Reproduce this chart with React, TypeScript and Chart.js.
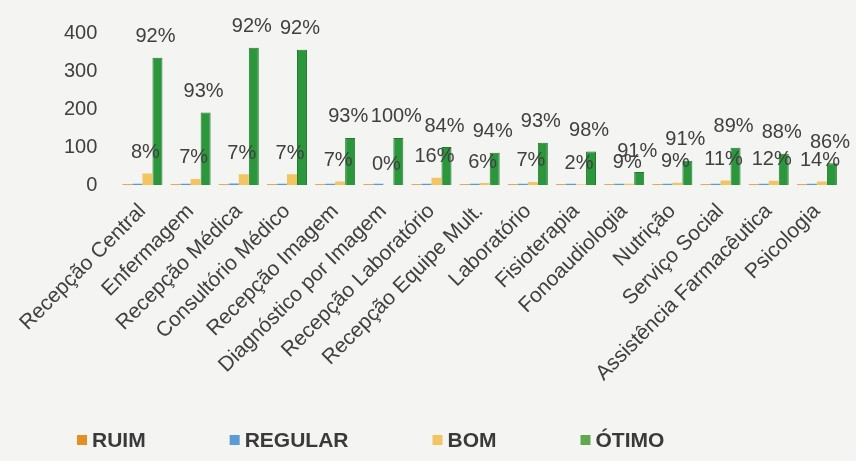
import React, { useEffect, useRef } from 'react';
import { Chart, registerables } from 'chart.js';

Chart.register(...registerables);

const categories = [
  'Recepção Central',
  'Enfermagem',
  'Recepção Médica',
  'Consultório Médico',
  'Recepção Imagem',
  'Diagnóstico por Imagem',
  'Recepção Laboratório',
  'Recepção Equipe Mult.',
  'Laboratório',
  'Fisioterapia',
  'Fonoaudiologia',
  'Nutrição',
  'Serviço Social',
  'Assistência Farmacêutica',
  'Psicologia',
];

const ruim = [2, 2, 2, 2, 2, 2, 2, 2, 2, 2, 2, 2, 2, 2, 2];
const regular = [3, 3, 4, 3, 3, 3, 3, 3, 3, 3, 3, 3, 3, 3, 3];
const bom = [30, 16, 28, 28, 9, 0, 19, 5, 8, 2, 3, 6, 12, 11, 9];
const otimo = [335, 191, 361, 356, 124, 124, 100, 85, 111, 88, 34, 64, 98, 82, 57];

const bomPct = ['8%', '7%', '7%', '7%', '7%', '0%', '16%', '6%', '7%', '2%', '9%', '9%', '11%', '12%', '14%'];
const otimoPct = ['92%', '93%', '92%', '92%', '93%', '100%', '84%', '94%', '93%', '98%', '91%', '91%', '89%', '88%', '86%'];

const seriesNames = ['RUIM', 'REGULAR', 'BOM', 'ÓTIMO'];
const seriesColors = ['#e58e26', '#5b9bd5', '#f2c462', '#2c963d'];
const legendColors = ['#e58e26', '#5b9bd5', '#f2c462', '#5fa850'];

const yMax = 400;
const yStep = 100;

const FONT = "'Liberation Sans', Arial, sans-serif";
const TEXT = '#404040';
const BG = '#f4f4f2';

const bgPlugin = {
  id: 'bg',
  beforeDraw(chart: any) {
    const { ctx, width, height } = chart;
    ctx.save();
    ctx.fillStyle = BG;
    ctx.fillRect(0, 0, width, height);
    ctx.restore();
  },
};

const labelsPlugin = {
  id: 'pctLabels',
  afterDatasetsDraw(chart: any) {
    const { ctx } = chart;
    ctx.save();
    ctx.font = `20px ${FONT}`;
    ctx.fillStyle = TEXT;
    ctx.textAlign = 'center';
    ctx.textBaseline = 'middle';
    const sets: [number, string[]][] = [
      [2, bomPct],
      [3, otimoPct],
    ];
    sets.forEach(([di, texts]) => {
      const meta = chart.getDatasetMeta(di);
      meta.data.forEach((bar: any, i: number) => {
        ctx.fillText(texts[i], bar.x - 2, bar.y - 21);
      });
    });
    ctx.restore();
  },
};

const legendPlugin = {
  id: 'customLegend',
  afterDraw(chart: any) {
    const { ctx, height } = chart;
    ctx.save();
    ctx.font = `bold 21px ${FONT}`;
    ctx.textBaseline = 'middle';
    ctx.textAlign = 'left';
    const y = height - 21;
    let x = 77;
    const gap = 84;
    seriesNames.forEach((name, i) => {
      ctx.fillStyle = legendColors[i];
      ctx.fillRect(x, y - 5, 10, 10);
      ctx.fillStyle = '#3a3a3a';
      ctx.fillText(name, x + 15, y + 1);
      x += 15 + ctx.measureText(name).width + gap;
    });
    ctx.restore();
  },
};

export default function App() {
  const ref = useRef<HTMLCanvasElement | null>(null);

  useEffect(() => {
    document.body.style.margin = '0';
    document.body.style.background = BG;
    const canvas = ref.current;
    if (!canvas) return;
    const datasets = [ruim, regular, bom, otimo].map((d, i) => ({
      label: seriesNames[i],
      data: d,
      backgroundColor: seriesColors[i],
      borderColor: i === 3 ? '#227a30' : seriesColors[i],
      borderWidth: i === 3 ? 1 : 0,
      categoryPercentage: 0.83,
      barPercentage: 1.0,
    }));
    const chart = new Chart(canvas, {
      type: 'bar',
      data: { labels: categories, datasets },
      options: {
        animation: false,
        responsive: false,
        maintainAspectRatio: false,
        layout: { padding: { top: 21, left: 43, right: 15, bottom: 50 } },
        plugins: {
          legend: { display: false },
          tooltip: { enabled: false },
        },
        scales: {
          x: {
            grid: { display: false, drawTicks: false },
            border: { display: false },
            afterFit(scale: any) {
              scale.paddingLeft = 0;
              scale.paddingRight = 0;
              scale.height = 226;
            },
            ticks: {
              autoSkip: false,
              minRotation: 45,
              maxRotation: 45,
              color: TEXT,
              font: { family: FONT, size: 21 },
              padding: 14,
            },
          },
          y: {
            min: 0,
            max: yMax,
            grid: { display: false, drawTicks: false },
            border: { display: false },
            ticks: {
              stepSize: yStep,
              color: TEXT,
              font: { family: FONT, size: 20 },
              padding: 21,
            },
          },
        },
      },
      plugins: [bgPlugin, labelsPlugin, legendPlugin],
    });
    return () => chart.destroy();
  }, []);

  return (
    <div style={{ width: 856, height: 461, background: BG }}>
      <canvas ref={ref} width={856} height={461} style={{ display: 'block', width: 856, height: 461 }} />
    </div>
  );
}
